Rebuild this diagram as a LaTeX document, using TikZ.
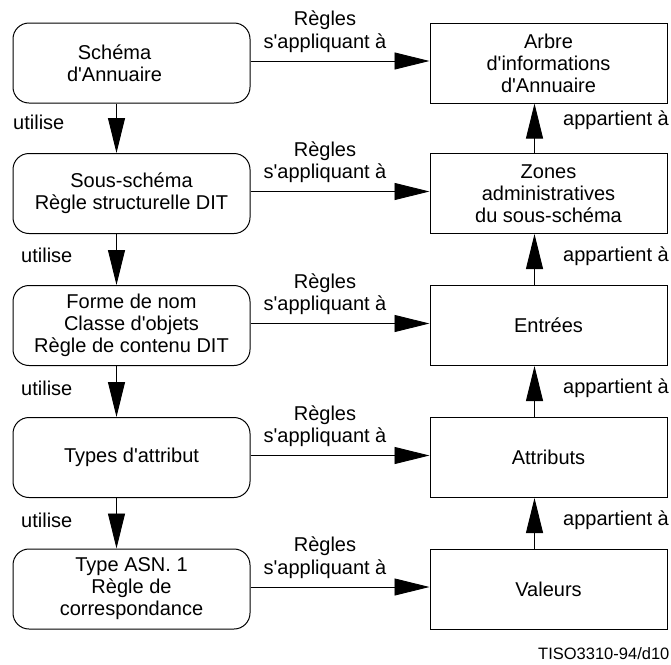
\documentclass[tikz,border=0pt]{standalone}
\usepackage{fontspec}
\setmainfont{Liberation Sans}
\usepackage{tikz}
\usetikzlibrary{arrows.meta,positioning}
\newcommand{\apos}{\textquotesingle}

\begin{document}
\begin{tikzpicture}[x=1pt,y=-1pt,
  every node/.style={inner sep=0pt, font=\fontsize{20}{22}\selectfont},
  schema/.style={draw, line width=1pt, rounded corners=16pt, minimum width=237pt, minimum height=80pt, align=center},
  target/.style={draw, line width=1pt, minimum width=237pt, minimum height=80pt, align=center},
  link/.style={line width=0.9pt, -{Triangle[length=35pt,width=17pt]}},
  rule/.style={align=center, anchor=south, xshift=-15pt, yshift=8pt, font=\fontsize{20}{22.5}\selectfont}]
  \useasboundingbox (0,0) rectangle (671,664);

  % Left column
  \node[schema] (b1) at (131.5,63) {};
  \node[align=center] (b1txt) at ([xshift=-17pt]b1.center) {Schéma\\d\apos Annuaire};
  \node[schema] (b2) at (131.5,193.5) {Sous-schéma\\Règle structurelle DIT};
  \node[schema] (b3) at (131.5,325.5) {Forme de nom\\Classe d\apos objets\\Règle de contenu DIT};
  \node[schema] (b4) at (131.5,457.5) {Types d\apos attribut};
  \node[schema] (b5) at (131.5,589) {Type ASN. 1\\Règle de\\correspondance};

  % Right column
  \node[target] (r1) at (548.5,63) {Arbre\\d\apos informations\\d\apos Annuaire};
  \node[target] (r2) at (548.5,193.5) {Zones\\administratives\\du sous-schéma};
  \node[target] (r3) at (548.5,325.5) {Entrées};
  \node[target] (r4) at (548.5,457.5) {Attributs};
  \node[target] (r5) at (548.5,589) {Valeurs};

  % utilise
  \draw[link] ([xshift=-15pt]b1.south) -- ([xshift=-15pt]b2.north);
  \draw[link] ([xshift=-15pt]b2.south) -- ([xshift=-15pt]b3.north);
  \draw[link] ([xshift=-15pt]b3.south) -- ([xshift=-15pt]b4.north);
  \draw[link] ([xshift=-15pt]b4.south) -- ([xshift=-15pt]b5.north);
  \node[anchor=west] (u1) at (13,122) {utilise};
  \node[anchor=west] (u2) at (21,255) {utilise};
  \node[anchor=west] (u3) at (21,388) {utilise};
  \node[anchor=west] (u4) at (21,520) {utilise};

  % appartient a
  \draw[link] ([xshift=-14pt]r2.north) -- ([xshift=-14pt]r1.south);
  \draw[link] ([xshift=-14pt]r3.north) -- ([xshift=-14pt]r2.south);
  \draw[link] ([xshift=-14pt]r4.north) -- ([xshift=-14pt]r3.south);
  \draw[link] ([xshift=-14pt]r5.north) -- ([xshift=-14pt]r4.south);
  \node[anchor=west] (p1) at (563,120) {appartient à};
  \node[anchor=west] (p2) at (563,256) {appartient à};
  \node[anchor=west] (p3) at (563,388) {appartient à};
  \node[anchor=west] (p4) at (563,520) {appartient à};

  % Regles
  \draw[link] ([yshift=2pt]b1.east) -- node[rule] (g1) {Règles\\s\apos appliquant à} ([yshift=2pt]r1.west);
  \draw[link] ([yshift=2pt]b2.east) -- node[rule] (g2) {Règles\\s\apos appliquant à} ([yshift=2pt]r2.west);
  \draw[link] ([yshift=2pt]b3.east) -- node[rule] (g3) {Règles\\s\apos appliquant à} ([yshift=2pt]r3.west);
  \draw[link] ([yshift=2pt]b4.east) -- node[rule] (g4) {Règles\\s\apos appliquant à} ([yshift=2pt]r4.west);
  \draw[link] ([yshift=2pt]b5.east) -- node[rule] (g5) {Règles\\s\apos appliquant à} ([yshift=2pt]r5.west);

  \node[anchor=base west, font=\fontsize{16.5}{18}\selectfont] (ref) at (538,659) {TISO3310-94/d10};
\end{tikzpicture}
\end{document}
